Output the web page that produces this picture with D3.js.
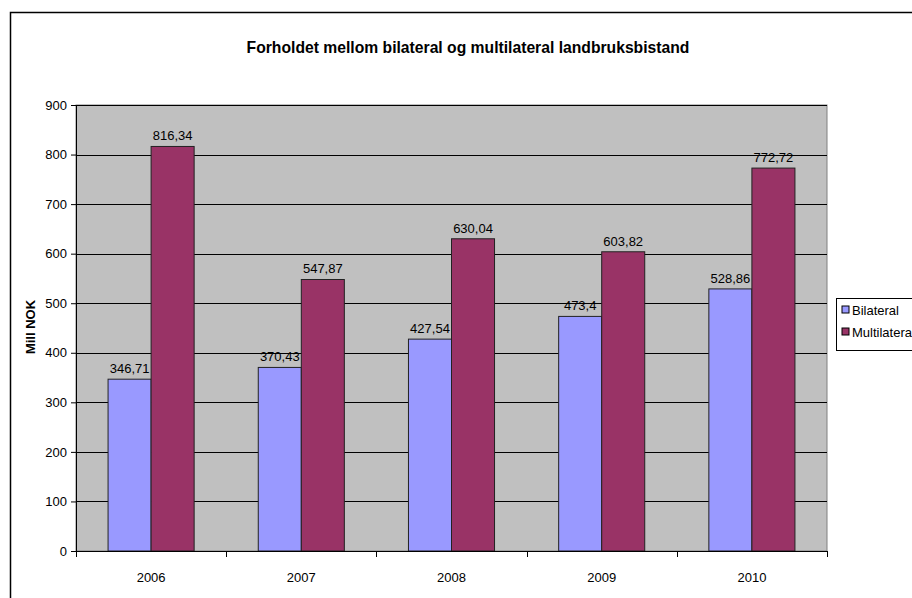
<!DOCTYPE html>
<html>
<head>
<meta charset="utf-8">
<script src="https://cdn.jsdelivr.net/npm/d3@7"></script>
<style>
  body { margin: 0; background: #fff; }
  text { font-family: "Liberation Sans Narrow", "Arial Narrow", "Liberation Sans", sans-serif; }
</style>
</head>
<body>
<svg width="912" height="598"></svg>
<script>
var width = 912,
    height = 598;

var years = ["2006", "2007", "2008", "2009", "2010"];
var bilateral = [346.71, 370.43, 427.54, 473.4, 528.86];
var multilateral = [816.34, 547.87, 630.04, 603.82, 772.72];
var seriesNames = ["Bilateral", "Multilatera"];
var seriesColors = ["#9999ff", "#993366"];
var yTicks = [0, 100, 200, 300, 400, 500, 600, 700, 800, 900];

var fmt = function (v) { return String(v).replace(".", ","); };

var svg = d3.select("svg");

// chart frame
svg.append("rect")
    .attr("x", 10.5).attr("y", 12.5)
    .attr("width", 920).attr("height", 600)
    .attr("fill", "#fff").attr("stroke", "#000").attr("stroke-width", 1.5);

var plot = { left: 76, top: 105, right: 827, bottom: 551 };

var x = d3.scaleBand()
    .domain(years)
    .range([plot.left, plot.right]);

var x1 = d3.scaleBand()
    .domain([0, 1])
    .range([0, x.bandwidth()])
    .paddingOuter(0.745)
    .paddingInner(0);

var y = d3.scaleLinear()
    .domain([0, 900])
    .range([plot.bottom, plot.top]);

// plot area
svg.append("rect")
    .attr("x", plot.left).attr("y", plot.top)
    .attr("width", plot.right - plot.left).attr("height", plot.bottom - plot.top)
    .attr("fill", "#c0c0c0").attr("stroke", "#808080").attr("stroke-width", 1);

// gridlines
svg.append("g")
    .selectAll("line")
    .data(yTicks.filter(function (d) { return d > 0; }))
    .enter()
    .append("line")
    .attr("x1", plot.left).attr("x2", plot.right)
    .attr("y1", function (d) { return Math.round(y(d)) + 0.5; })
    .attr("y2", function (d) { return Math.round(y(d)) + 0.5; })
    .attr("stroke", "#000").attr("stroke-width", 1);

// bars
var series = [bilateral, multilateral];
series.forEach(function (vals, s) {
    svg.append("g")
        .selectAll("rect")
        .data(vals)
        .enter()
        .append("rect")
        .attr("x", function (d, i) { return x(years[i]) + x1(s); })
        .attr("y", function (d) { return y(d); })
        .attr("width", x1.bandwidth())
        .attr("height", function (d) { return y(0) - y(d); })
        .attr("fill", seriesColors[s])
        .attr("stroke", "#222")
        .attr("stroke-width", 1);

    svg.append("g")
        .selectAll("text")
        .data(vals)
        .enter()
        .append("text")
        .attr("x", function (d, i) { return x(years[i]) + x1(s) + x1.bandwidth() / 2; })
        .attr("y", function (d) { return y(d) - 6; })
        .attr("text-anchor", "middle")
        .attr("font-size", 13)
        .attr("fill", "#000")
        .text(fmt);
});

// y axis
var yAxis = d3.axisLeft(y).tickValues(yTicks).tickSize(5).tickPadding(4);
var gy = svg.append("g")
    .attr("transform", "translate(" + plot.left + ",0)")
    .call(yAxis);
gy.select(".domain").attr("stroke", "#000");
gy.selectAll("text").attr("font-size", 13).attr("fill", "#000")
    .style("font-family", "\"Liberation Sans Narrow\", \"Liberation Sans\", sans-serif");

// x axis
var xAxis = d3.axisBottom(x).tickSize(0).tickPadding(22);
var gx = svg.append("g")
    .attr("transform", "translate(0," + plot.bottom + ")")
    .call(xAxis);
gx.select(".domain").attr("stroke", "#000");
gx.selectAll("text").attr("font-size", 13).attr("fill", "#000")
    .style("font-family", "\"Liberation Sans Narrow\", \"Liberation Sans\", sans-serif");

// x tick marks at category boundaries
svg.append("g")
    .selectAll("line")
    .data(years.concat(["end"]))
    .enter()
    .append("line")
    .attr("x1", function (d, i) { return Math.round(plot.left + i * x.step()) + 0.5; })
    .attr("x2", function (d, i) { return Math.round(plot.left + i * x.step()) + 0.5; })
    .attr("y1", plot.bottom)
    .attr("y2", plot.bottom + 6)
    .attr("stroke", "#000");

// title
svg.append("text")
    .attr("x", 468).attr("y", 53)
    .attr("text-anchor", "middle")
    .attr("font-size", 15.7)
    .attr("font-weight", "bold")
    .text("Forholdet mellom bilateral og multilateral landbruksbistand");

// y label
svg.append("text")
    .attr("transform", "translate(35,327) rotate(-90)")
    .attr("text-anchor", "middle")
    .attr("font-size", 13)
    .attr("font-weight", "bold")
    .style("font-family", "\"Liberation Sans\", sans-serif")
    .text("Mill NOK");

// legend
var legend = svg.append("g").attr("transform", "translate(836,298)");
legend.append("rect")
    .attr("x", 0.5).attr("y", 0.5)
    .attr("width", 90).attr("height", 52)
    .attr("fill", "#fff").attr("stroke", "#000");
var li = legend.selectAll("g.item")
    .data(seriesNames)
    .enter()
    .append("g")
    .attr("class", "item")
    .attr("transform", function (d, i) { return "translate(6," + (13 + i * 22) + ")"; });
li.append("rect")
    .attr("x", 0).attr("y", -5)
    .attr("width", 7).attr("height", 7)
    .attr("fill", function (d, i) { return seriesColors[i]; })
    .attr("stroke", "#000");
li.append("text")
    .attr("x", 10).attr("y", 4)
    .attr("font-size", 13)
    .text(function (d) { return d; });
</script>
</body>
</html>
